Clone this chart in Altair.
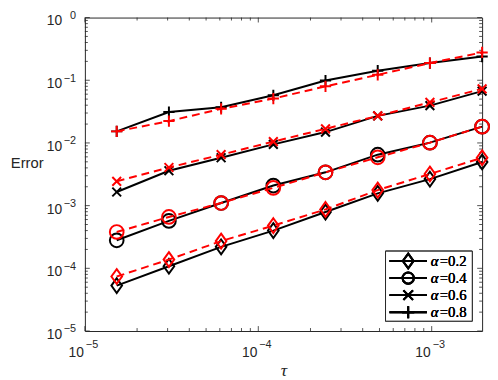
import altair as alt
import pandas as pd

# ---- data ----
tau = [1.526e-5, 3.052e-5, 6.104e-5, 1.221e-4, 2.441e-4, 4.883e-4, 9.766e-4, 1.953e-3]
alphas = ["0.2", "0.4", "0.6", "0.8"]

err_black_02 = [5.3e-5, 1.08e-4, 2.2e-4, 4.0e-4, 7.9e-4, 1.57e-3, 2.65e-3, 4.96e-3]
err_black_04 = [2.8e-4, 5.7e-4, 1.1e-3, 2.09e-3, 3.4e-3, 6.5e-3, 1.01e-2, 1.82e-2]
err_black_06 = [1.65e-3, 3.6e-3, 5.8e-3, 9.5e-3, 1.49e-2, 2.7e-2, 3.94e-2, 6.7e-2]
err_black_08 = [1.53e-2, 3.11e-2, 3.71e-2, 5.76e-2, 9.9e-2, 1.42e-1, 1.88e-1, 2.39e-1]

err_red_02 = [7.4e-5, 1.38e-4, 2.72e-4, 4.8e-4, 8.7e-4, 1.77e-3, 3.2e-3, 5.8e-3]
err_red_04 = [3.8e-4, 6.6e-4, 1.1e-3, 1.92e-3, 3.4e-3, 5.9e-3, 1.01e-2, 1.82e-2]
err_red_06 = [2.44e-3, 4.06e-3, 6.5e-3, 1.05e-2, 1.68e-2, 2.7e-2, 4.43e-2, 7.3e-2]
err_red_08 = [1.53e-2, 2.23e-2, 3.5e-2, 5.1e-2, 8.0e-2, 1.22e-1, 1.88e-1, 2.78e-1]

x_major = [1e-5, 1e-4, 1e-3]
x_exp = ["\u22125", "\u22124", "\u22123"]
y_major = [1e-5, 1e-4, 1e-3, 1e-2, 1e-1, 1e0]
y_exp = ["\u22125", "\u22124", "\u22123", "\u22122", "\u22121", "0"]

black = dict(zip(alphas, [err_black_02, err_black_04, err_black_06, err_black_08]))
red = dict(zip(alphas, [err_red_02, err_red_04, err_red_06, err_red_08]))

rows = []
for a in alphas:
    for t, e in zip(tau, black[a]):
        rows.append({"tau": t, "err": e, "alpha": a, "kind": "num"})
    for t, e in zip(tau, red[a]):
        rows.append({"tau": t, "err": e, "alpha": a, "kind": "ref"})
df = pd.DataFrame(rows)
df_black = df[df.kind == "num"]
df_red = df[df.kind == "ref"]

x_minor = [k * 10.0 ** e for e in (-5, -4) for k in range(2, 10)]
y_minor = [k * 10.0 ** e for e in (-5, -4, -3, -2, -1) for k in range(2, 10)]

# ---- styling ----
W, H = 403, 318
AX = "#262626"
SANS = "Liberation Sans"
SERIF = "Liberation Serif"

shape_paths = ["M0,-1L0.72,0L0,1L-0.72,0Z", "circle",
               "M-0.7,-0.7L0.7,0.7M-0.7,0.7L0.7,-0.7", "M-1,0L1,0M0,-1L0,1"]
shape_sizes = [225, 130, 190, 150]

xs = alt.Scale(type="log", domain=[1e-5, 1 / 512], nice=False)
ys = alt.Scale(type="log", domain=[1e-5, 1], nice=False)

x_axis = alt.Axis(title="τ", labels=False, ticks=False, domain=False, grid=False,
                  titleFont=SERIF, titleFontStyle="italic", titleFontWeight="normal",
                  titleFontSize=18, titleColor=AX, titleY=45, titleBaseline="alphabetic")
y_axis = alt.Axis(title="Error", labels=False, ticks=False, domain=False, grid=False,
                  titleFont=SANS, titleFontWeight="normal", titleFontSize=15,
                  titleColor=AX, titleAngle=0, titleX=-59, titleY=147,
                  titleAlign="center", titleBaseline="middle")

X = alt.X("tau:Q", scale=xs, axis=x_axis)
Y = alt.Y("err:Q", scale=ys, axis=y_axis)

shape_enc = alt.Shape("alpha:N", scale=alt.Scale(domain=alphas, range=shape_paths), legend=None)
size_enc = alt.Size("alpha:N", scale=alt.Scale(domain=alphas, range=shape_sizes), legend=None)

black_lines = alt.Chart(df_black).mark_line(color="black", strokeWidth=2).encode(
    x=X, y=Y, detail="alpha:N")
black_pts = alt.Chart(df_black).mark_point(filled=False, color="black", strokeWidth=2, opacity=1).encode(
    x=X, y=Y, shape=shape_enc, size=size_enc)
red_lines = alt.Chart(df_red).mark_line(color="#ff0000", strokeWidth=2, strokeDash=[8, 5]).encode(
    x=X, y=Y, detail="alpha:N")
red_pts = alt.Chart(df_red).mark_point(filled=False, color="#ff0000", strokeWidth=2, opacity=1).encode(
    x=X, y=Y, shape=shape_enc, size=size_enc)

# ---- inward ticks (MATLAB style) ----
dxM = pd.DataFrame({"tau": x_major})
dxm = pd.DataFrame({"tau": x_minor})
dyM = pd.DataFrame({"err": y_major})
dym = pd.DataFrame({"err": y_minor})

tick_layers = []
for d, L in ((dxM, 5), (dxm, 3)):
    tick_layers.append(alt.Chart(d).mark_rule(color=AX, strokeWidth=0.8).encode(
        x=X, y=alt.value(H), y2=alt.value(H - L)))
    tick_layers.append(alt.Chart(d).mark_rule(color=AX, strokeWidth=0.8).encode(
        x=X, y=alt.value(0), y2=alt.value(L)))
for d, L in ((dyM, 5), (dym, 3)):
    tick_layers.append(alt.Chart(d).mark_rule(color=AX, strokeWidth=0.8).encode(
        y=Y, x=alt.value(0), x2=alt.value(L)))
    tick_layers.append(alt.Chart(d).mark_rule(color=AX, strokeWidth=0.8).encode(
        y=Y, x=alt.value(W), x2=alt.value(W - L)))

# ---- tick labels 10^k ----
dxl = pd.DataFrame({"tau": x_major, "exp": x_exp})
dyl = pd.DataFrame({"err": y_major, "exp": y_exp})

x_ten = alt.Chart(dxl).mark_text(align="right", baseline="alphabetic", font=SANS, fontSize=14,
                                 color=AX, dx=-1).encode(x=X, y=alt.value(H + 26), text=alt.value("10"))
x_ex = alt.Chart(dxl).mark_text(align="left", baseline="alphabetic", font=SANS, fontSize=11,
                                color=AX, dx=1).encode(x=X, y=alt.value(H + 17), text="exp:N")
y_ten = alt.Chart(dyl).mark_text(align="right", baseline="alphabetic", font=SANS, fontSize=14,
                                 color=AX, dy=8).encode(y=Y, x=alt.value(-23), text=alt.value("10"))
y_ex = alt.Chart(dyl).mark_text(align="right", baseline="alphabetic", font=SANS, fontSize=11,
                                color=AX, dy=1.5).encode(y=Y, x=alt.value(-9), text="exp:N")

# ---- legend (drawn by hand, MATLAB style) ----
leg = [alt.Chart(dxM).mark_rect(fill="white", stroke=AX, strokeWidth=1).encode(
    x=alt.value(305), x2=alt.value(393), y=alt.value(237), y2=alt.value(308))]
row_y = [247, 264.3, 281.6, 299]
for i, a in enumerate(alphas):
    yy = row_y[i]
    leg.append(alt.Chart(dxM).mark_rule(color="black", strokeWidth=2).encode(
        x=alt.value(309), x2=alt.value(347), y=alt.value(yy)))
    leg.append(alt.Chart(dxM).mark_point(filled=False, color="black", strokeWidth=2, opacity=1).encode(
        x=alt.value(328), y=alt.value(yy), shape=alt.value(shape_paths[i]), size=alt.value(shape_sizes[i])))
    leg.append(alt.Chart(dxM).mark_text(align="left", baseline="middle", font=SERIF, fontStyle="italic",
                                        fontSize=15, color="black").encode(
        x=alt.value(351), y=alt.value(yy), text=alt.value("α")))
    leg.append(alt.Chart(dxM).mark_text(align="left", baseline="middle", font=SERIF,
                                        fontSize=15, color="black").encode(
        x=alt.value(360), y=alt.value(yy), text=alt.value("=" + a)))

chart = alt.layer(
    *tick_layers, black_lines, black_pts, red_lines, red_pts,
    x_ten, x_ex, y_ten, y_ex, *leg
).properties(
    width=W, height=H,
    autosize=alt.AutoSizeParams(type="none"),
    padding={"left": 78, "top": 7, "right": 8, "bottom": 47},
    background="white",
).configure_view(stroke=AX, strokeWidth=1)

chart.save("out.html", embed_options={"renderer": "svg", "actions": False})
